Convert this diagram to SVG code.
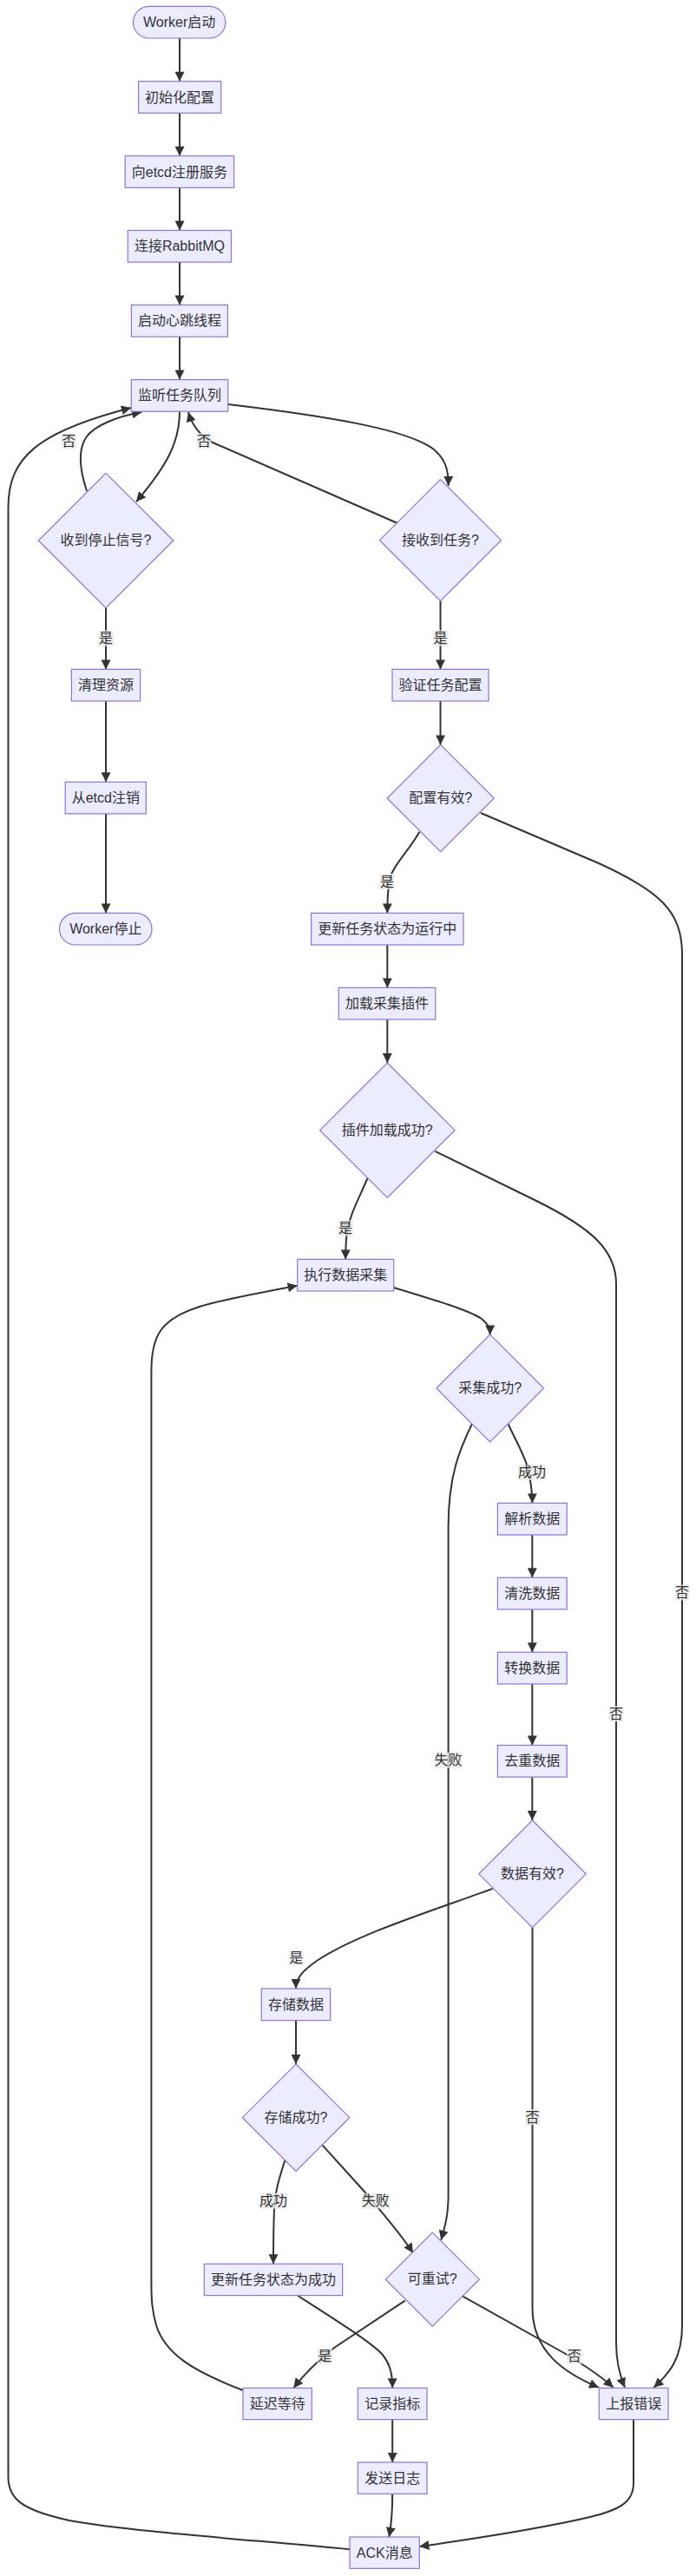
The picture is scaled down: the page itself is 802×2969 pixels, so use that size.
<svg xmlns="http://www.w3.org/2000/svg" width="802" height="2969" viewBox="0 0 802 2969">
<style>
.n rect,.n polygon{fill:#ECECFF;stroke:#9370DB;stroke-width:1.2}
text{font-family:"Liberation Sans","Noto Sans CJK SC",sans-serif;font-size:16px;fill:#333;text-anchor:middle;dominant-baseline:central}
.e path{fill:none;stroke:#333;stroke-width:2;marker-end:url(#arr)}
.el rect{fill:#e8e8e8;opacity:0.8}
</style>
<defs>
<marker id="arr" viewBox="0 0 10 10" refX="10" refY="5" markerUnits="userSpaceOnUse" markerWidth="12" markerHeight="11" orient="auto">
<path d="M0,0 L10,5 L0,10 z" fill="#333"/>
</marker>
</defs>
<rect width="802" height="2969" fill="#fff"/>
<g class="e" id="connectors">
<path d="M207,44 L207,93.7"/>
<path d="M207,130.3 L207,179.7"/>
<path d="M207,216.3 L207,265.5"/>
<path d="M207,302.1 L207,351.5"/>
<path d="M207,388.1 L207,437.6"/>
<path d="M207,474.2 C207,510 192,537 157,578.3"/>
<path d="M100,566 C93,545 88,520 100,503 C110,490 135,480 163.3,475"/>
<path d="M403,2938.3 C300,2928 150,2918 80,2905 C25,2893 9.5,2880 9.5,2855 L9.5,585 C9.5,528 42,498 151,470"/>
<path d="M263,466 C380,480 470,495 500,518 C514,530 516.7,542 516.7,560"/>
<path d="M458,603 L245,510 C232,503 222,492 217,475"/>
<path d="M122,700.7 L122,771.4"/>
<path d="M507.5,692.7 L507.5,771.4"/>
<path d="M122,808 L122,901.3"/>
<path d="M122,937.9 L122,1052.4"/>
<path d="M507.5,808 L507.5,858.4"/>
<path d="M483.4,958.8 C470,982 455,995 450,1010 C447,1022 446.3,1035 446.3,1052.4"/>
<path d="M554,937 L690,995 C760,1027 786,1050 786,1100 L786,2680 C786,2718 772,2735 753.3,2751.7"/>
<path d="M446.3,1089 L446.3,1138.4"/>
<path d="M446.3,1175 L446.3,1225"/>
<path d="M423.5,1358 C412,1385 403,1400 400,1420 C398.5,1430 398.2,1440 398.2,1451.4"/>
<path d="M501.3,1326.8 L620,1385 C680,1415 710,1440 710,1480 L710,2700 C710,2725 715,2740 720,2751.7"/>
<path d="M453.7,1484 C500,1498 540,1510 555,1520 C562,1526 564.7,1530 564.7,1538.4"/>
<path d="M585.7,1641.5 C595,1662 605,1678 609,1695 C612,1710 613.3,1720 613.3,1732.4"/>
<path d="M543.7,1641.5 C530,1670 516.6,1700 516.6,1760 L516.6,2530 C516.6,2555 512,2568 508.3,2581.7"/>
<path d="M613.3,1769 L613.3,1818.3"/>
<path d="M613.3,1854.9 L613.3,1904.3"/>
<path d="M613.3,1940.9 L613.3,2011.5"/>
<path d="M613.3,2048.1 L613.3,2098"/>
<path d="M567.8,2176.9 C490,2205 410,2230 365,2260 C348,2272 341,2280 341,2292"/>
<path d="M613.5,2221.6 L613.5,2660 C613.5,2710 650,2735 690,2751.7"/>
<path d="M341,2328.6 L341,2379"/>
<path d="M328.3,2490 C322,2510 317,2525 316,2545 C315,2570 315,2590 315,2609.3"/>
<path d="M371.7,2472.7 L420,2526 C440,2550 460,2572 476,2596.7"/>
<path d="M466.7,2651.7 L385,2706 C370,2718 350,2737 338.3,2752.3"/>
<path d="M533.3,2646.7 L650,2712 C675,2727 692,2738 706.7,2751.7"/>
<path d="M343.3,2646 C390,2676 425,2698 440,2713 C450,2725 452.2,2737 452.2,2752.3"/>
<path d="M280,2755 C220,2732 190,2712 180,2680 C175,2662 174.4,2650 174.4,2630 L174.4,1580 C174.4,1540 185,1520 230,1506 C260,1497 300,1490 342.7,1481.7"/>
<path d="M452.2,2788.6 L452.2,2838"/>
<path d="M452.2,2874.3 C452.2,2895 451,2910 448.3,2924"/>
<path d="M730,2788.6 L730,2862 C730,2885 712,2893 680,2901 C620,2915 540,2927 483.3,2935"/>
</g>
<g class="el" id="edge-labels">
<rect x="70.8" y="499.3" width="17" height="18"/><text x="79.3" y="508.3">否</text>
<rect x="226.5" y="499.3" width="17" height="18"/><text x="235" y="508.3">否</text>
<rect x="113.5" y="726.6" width="17" height="18"/><text x="122" y="735.6">是</text>
<rect x="499" y="726.6" width="17" height="18"/><text x="507.5" y="735.6">是</text>
<rect x="437.5" y="1007" width="17" height="18"/><text x="446" y="1016">是</text>
<rect x="389.5" y="1406.6" width="17" height="18"/><text x="398" y="1415.6">是</text>
<rect x="597" y="1687.9" width="32" height="18"/><text x="613" y="1696.9">成功</text>
<rect x="500.6" y="2019.8" width="32" height="18"/><text x="516.6" y="2028.8">失败</text>
<rect x="701.5" y="1966.2" width="17" height="18"/><text x="710" y="1975.2">否</text>
<rect x="777.5" y="1826.5" width="17" height="18"/><text x="786" y="1835.5">否</text>
<rect x="332.7" y="2247.5" width="17" height="18"/><text x="341.2" y="2256.5">是</text>
<rect x="605" y="2431" width="17" height="18"/><text x="613.5" y="2440">否</text>
<rect x="299" y="2527.7" width="32" height="18"/><text x="315" y="2536.7">成功</text>
<rect x="416.7" y="2527.7" width="32" height="18"/><text x="432.7" y="2536.7">失败</text>
<rect x="365.8" y="2706.7" width="17" height="18"/><text x="374.3" y="2715.7">是</text>
<rect x="653.2" y="2706.7" width="17" height="18"/><text x="661.7" y="2715.7">否</text>
</g>
<g class="n" id="start"><rect x="153.5" y="7.3" width="106.3" height="36.7" rx="18.3"/><text x="206.7" y="25.7">Worker启动</text></g>
<g class="n" id="init"><rect x="159.6" y="93.7" width="95.1" height="36.6"/><text x="207.1" y="112">初始化配置</text></g>
<g class="n" id="register"><rect x="144.2" y="179.7" width="125.4" height="36.6"/><text x="206.9" y="198">向etcd注册服务</text></g>
<g class="n" id="mq"><rect x="147.3" y="265.5" width="119.2" height="36.6"/><text x="206.9" y="283.8">连接RabbitMQ</text></g>
<g class="n" id="heartbeat"><rect x="151.4" y="351.5" width="111" height="36.6"/><text x="206.9" y="369.8">启动心跳线程</text></g>
<g class="n" id="listen"><rect x="151.3" y="437.6" width="111.4" height="36.6"/><text x="207" y="455.9">监听任务队列</text></g>
<g class="n" id="stopq"><polygon points="122,545.3 199.7,623 122,700.7 44.3,623"/><text x="122" y="622">收到停止信号?</text></g>
<g class="n" id="taskq"><polygon points="507.5,552.7 577.5,622.7 507.5,692.7 437.5,622.7"/><text x="507.5" y="622">接收到任务?</text></g>
<g class="n" id="clean"><rect x="82.4" y="771.4" width="79.2" height="36.6"/><text x="122" y="789.7">清理资源</text></g>
<g class="n" id="verify"><rect x="452" y="771.4" width="111" height="36.6"/><text x="507.5" y="789.7">验证任务配置</text></g>
<g class="n" id="cfgq"><polygon points="507.7,858.4 569.3,920 507.7,981.6 446.1,920"/><text x="507.7" y="919.5">配置有效?</text></g>
<g class="n" id="unregister"><rect x="75.2" y="901.3" width="93.1" height="36.6"/><text x="121.8" y="919.6">从etcd注销</text></g>
<g class="n" id="stop"><rect x="68.5" y="1052.4" width="106.5" height="36.6" rx="18.3"/><text x="121.8" y="1070.7">Worker停止</text></g>
<g class="n" id="running"><rect x="358.6" y="1052.4" width="175.4" height="36.6"/><text x="446.3" y="1070.7">更新任务状态为运行中</text></g>
<g class="n" id="load"><rect x="390.3" y="1138.4" width="111.5" height="36.6"/><text x="446.1" y="1156.7">加载采集插件</text></g>
<g class="n" id="plugq"><polygon points="446.3,1225 524,1302.7 446.3,1380.4 368.6,1302.7"/><text x="446.3" y="1302">插件加载成功?</text></g>
<g class="n" id="exec"><rect x="342.7" y="1451.4" width="111" height="36.6"/><text x="398.2" y="1469.7">执行数据采集</text></g>
<g class="n" id="collq"><polygon points="564.7,1538.2 626.5,1600 564.7,1661.8 502.9,1600"/><text x="564.7" y="1599.5">采集成功?</text></g>
<g class="n" id="parse"><rect x="573.4" y="1732.4" width="79.8" height="36.6"/><text x="613.3" y="1750.7">解析数据</text></g>
<g class="n" id="wash"><rect x="573.4" y="1818.3" width="79.8" height="36.6"/><text x="613.3" y="1836.6">清洗数据</text></g>
<g class="n" id="transform"><rect x="573.4" y="1904.3" width="79.8" height="36.6"/><text x="613.3" y="1922.6">转换数据</text></g>
<g class="n" id="dedup"><rect x="573.4" y="2011.5" width="79.8" height="36.6"/><text x="613.3" y="2029.8">去重数据</text></g>
<g class="n" id="dataq"><polygon points="613.5,2098 675.3,2159.8 613.5,2221.6 551.7,2159.8"/><text x="613.5" y="2159.3">数据有效?</text></g>
<g class="n" id="store"><rect x="301.3" y="2292" width="79.3" height="36.6"/><text x="341" y="2310.3">存储数据</text></g>
<g class="n" id="storeq"><polygon points="341,2379 402.7,2440.7 341,2502.4 279.3,2440.7"/><text x="341" y="2440.2">存储成功?</text></g>
<g class="n" id="success"><rect x="235.3" y="2609.3" width="159.4" height="36.3"/><text x="315" y="2627.5">更新任务状态为成功</text></g>
<g class="n" id="retryq"><polygon points="498.3,2573.2 552.3,2627.2 498.3,2681.2 444.3,2627.2"/><text x="498.3" y="2626.7">可重试?</text></g>
<g class="n" id="delay"><rect x="280" y="2752.3" width="79.3" height="36.3"/><text x="319.7" y="2770.5">延迟等待</text></g>
<g class="n" id="metric"><rect x="412.3" y="2752.3" width="79.7" height="36.3"/><text x="452.2" y="2770.5">记录指标</text></g>
<g class="n" id="report"><rect x="690.3" y="2752.3" width="79.7" height="36.3"/><text x="730.2" y="2770.5">上报错误</text></g>
<g class="n" id="log"><rect x="412.3" y="2838" width="79.7" height="36.3"/><text x="452.2" y="2856.2">发送日志</text></g>
<g class="n" id="ack"><rect x="403" y="2924" width="80.3" height="36.3"/><text x="443.2" y="2942.2">ACK消息</text></g>
</svg>
